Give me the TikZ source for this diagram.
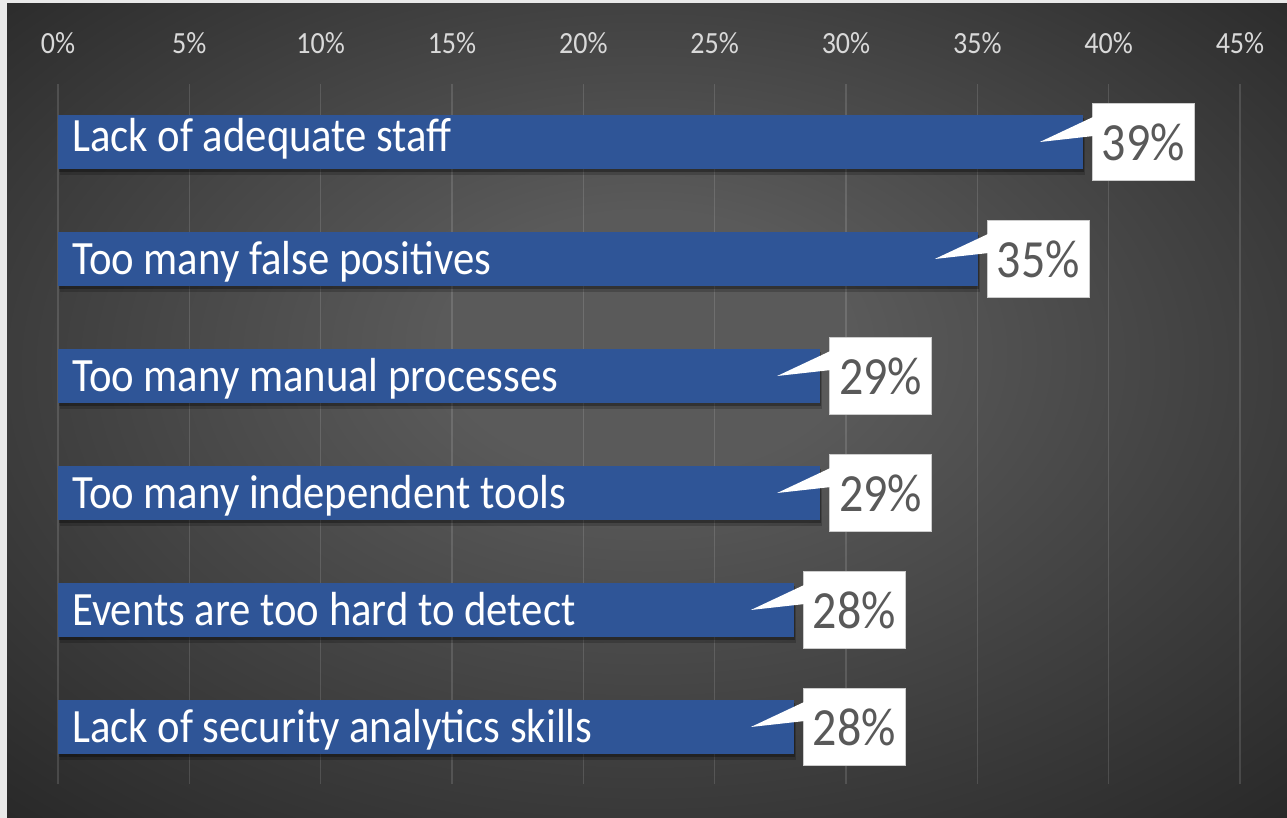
\documentclass[tikz,border=0pt]{standalone}
\usepackage{fontspec}
\setmainfont{Carlito}
\usepackage{graphicx}
\usetikzlibrary{shadows}

\definecolor{barblue}{HTML}{2F5597}
\definecolor{bgin}{HTML}{5A5A5A}
\definecolor{bgout}{HTML}{262626}
\definecolor{paper}{HTML}{E9E9E9}
\definecolor{pctgray}{HTML}{595959}
\definecolor{axisgray}{HTML}{D9D9D9}

\pgfdeclareradialshading{chartbg}{\pgfpoint{0bp}{5bp}}{color(0bp)=(bgin); color(8bp)=(bgin); color(38bp)=(bgout); color(50bp)=(bgout)}

\newcommand{\tallbox}[2]{\scalebox{1}[#1]{#2}}

\tikzset{
  bar/.style={fill=barblue, minimum height=54pt, inner sep=0pt, anchor=west,
    drop shadow={fill=black, shadow xshift=2pt, shadow yshift=-6pt, opacity=0.2},
    drop shadow={fill=black, shadow xshift=1pt, shadow yshift=-3pt, opacity=0.3}},
  barlabel/.style={text=white, inner sep=0pt, anchor=base west, font=\fontsize{42.7}{43}\selectfont},
  pctbox/.style={fill=white, draw=gray!40, line width=0.8pt, minimum width=102pt, minimum height=77pt,
    inner sep=0pt, anchor=west, text=pctgray, font=\fontsize{48}{48}\selectfont},
  axislabel/.style={text=axisgray, inner sep=0pt, font=\fontsize{28}{28}\selectfont},
  gridline/.style={white, opacity=0.13, line width=1.5pt}
}

\begin{document}
\begin{tikzpicture}[x=1pt,y=-1pt]
\useasboundingbox (0,0) rectangle (1287,818);
\fill[paper] (0,0) rectangle (1287,818);
\shade[shading=chartbg] (7,4) rectangle (1287,818);

% axis
\foreach \p [count=\k from 0] in {0,5,...,45} {
  \draw[gridline] (58+\k*131.33,84) -- (58+\k*131.33,784);
  \node[axislabel] (ax\k) at (58+\k*131.33,43) {\tallbox{1.1}{\p\%}};
}

% bars
\foreach \val/\dy/\name [count=\i] in {39/10/Lack of adequate staff, 35/16/Too many false positives,
    29/15/Too many manual processes, 29/15/Too many independent tools,
    28/15/Events are too hard to detect, 28/15/Lack of security analytics skills} {
  \pgfmathsetmacro{\yc}{142+(\i-1)*117}
  \node[bar, minimum width=\val*26.267pt] (bar\i) at (58,\yc) {};
  \node[barlabel] (name\i) at (72,\yc+\dy) {\tallbox{1.12}{\name}};
  \node[pctbox] (pct\i) at ([xshift=9pt]bar\i.east) {\tallbox{1.12}{\val\%}};
  \fill[white] ([shift={(1,14)}]pct\i.north west) -- ([xshift=-43pt]bar\i.east)
    -- ([shift={(1,33)}]pct\i.north west) -- cycle;
}
\end{tikzpicture}
\end{document}
